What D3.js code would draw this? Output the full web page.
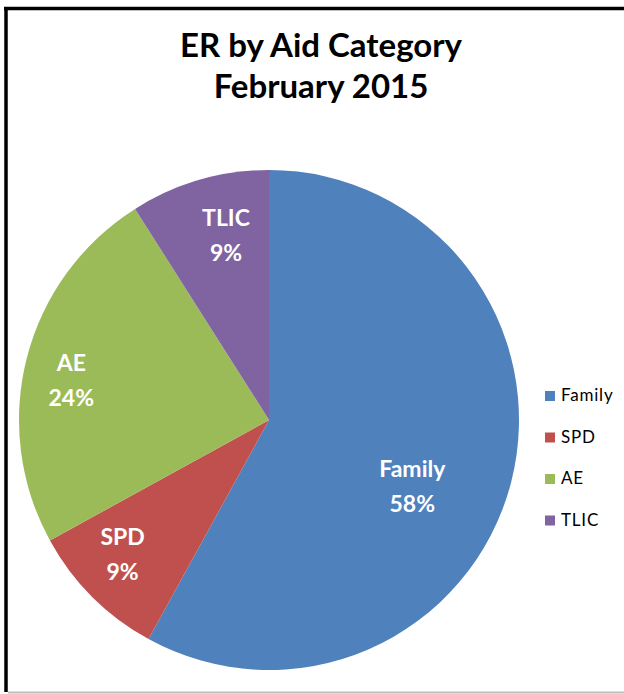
<!DOCTYPE html>
<html>
<head>
<meta charset="utf-8">
<script src="https://cdn.jsdelivr.net/npm/d3@7"></script>
<style>
  html, body { margin: 0; padding: 0; background: #fff; }
  svg { display: block; }
</style>
</head>
<body>
<svg id="chart" width="624" height="694"></svg>
<script>
// ER by aid category, February 2015
const categories = ["Family", "SPD", "AE", "TLIC"];
const shares = [58, 9, 24, 9];
const titleLines = ["ER by Aid Category", "February 2015"];

const colors = ["#4f81bd", "#c0504d", "#9bbb59", "#8064a2"];

const W = 624, H = 694;
const cx = 269, cy = 420, R = 250;
const FONT = "Lato, 'Open Sans', sans-serif";

const svg = d3.select("#chart");

// frame
svg.append("rect").attr("x", 0).attr("y", 0).attr("width", W).attr("height", H).attr("fill", "#fff");
svg.append("line").attr("x1", 6).attr("y1", 8).attr("x2", 6).attr("y2", 692)
  .attr("stroke", "#000").attr("stroke-width", 3.5);
svg.append("line").attr("x1", 4).attr("y1", 8.5).attr("x2", W).attr("y2", 8.5)
  .attr("stroke", "#000").attr("stroke-width", 3.5);
svg.append("line").attr("x1", 8).attr("y1", 692.5).attr("x2", W).attr("y2", 692.5)
  .attr("stroke", "#bdbdbd").attr("stroke-width", 2);

// title
const title = svg.append("text")
  .attr("text-anchor", "middle")
  .attr("font-family", FONT)
  .attr("font-weight", 700)
  .attr("font-size", 33)
  .attr("fill", "#000");
titleLines.forEach((t, i) => {
  title.append("tspan").attr("x", 321).attr("y", 57 + i * 41).text(t);
});

const data = categories.map((c, i) => ({ name: c, value: shares[i], color: colors[i] }));

const pie = d3.pie().value(d => d.value).sort(null);
const arcs = pie(data);
const arc = d3.arc().innerRadius(0).outerRadius(R);

const g = svg.append("g").attr("transform", `translate(${cx},${cy})`);
g.selectAll("path.slice").data(arcs).join("path")
  .attr("class", "slice")
  .attr("d", arc)
  .attr("fill", d => d.data.color);

// data labels: centroid on a chosen radius, with small per-slice nudges
const labelFrac = { Family: 0.6, SPD: 0.8, AE: 0.8, TLIC: 0.76 };
const labelNudge = { Family: [-2, 29], SPD: [-5, -7], AE: [-4, 10], TLIC: [10, -3] };
arcs.forEach(a => {
  const name = a.data.name;
  const r = R * labelFrac[name];
  const [x, y] = d3.arc().innerRadius(r).outerRadius(r).centroid(a);
  const [dx, dy] = labelNudge[name];
  const t = g.append("text")
    .attr("text-anchor", "middle")
    .attr("font-family", FONT)
    .attr("font-weight", 700)
    .attr("font-size", 23)
    .attr("fill", "#fff");
  t.append("tspan").attr("x", x + dx).attr("y", y + dy - 9).text(name);
  t.append("tspan").attr("x", x + dx).attr("y", y + dy + 26).text(a.data.value + "%");
});

// legend
const legend = svg.append("g").attr("transform", "translate(545,396)");
const row = legend.selectAll("g").data(data).join("g")
  .attr("transform", (d, i) => `translate(0,${i * 41.5})`);
row.append("rect").attr("x", 0).attr("y", -5).attr("width", 10).attr("height", 10)
  .attr("fill", d => d.color);
row.append("text").attr("x", 16).attr("y", 5)
  .attr("font-family", FONT)
  .attr("font-size", 17)
  .attr("letter-spacing", 0.8)
  .attr("fill", "#000")
  .text(d => d.name);
</script>
</body>
</html>
